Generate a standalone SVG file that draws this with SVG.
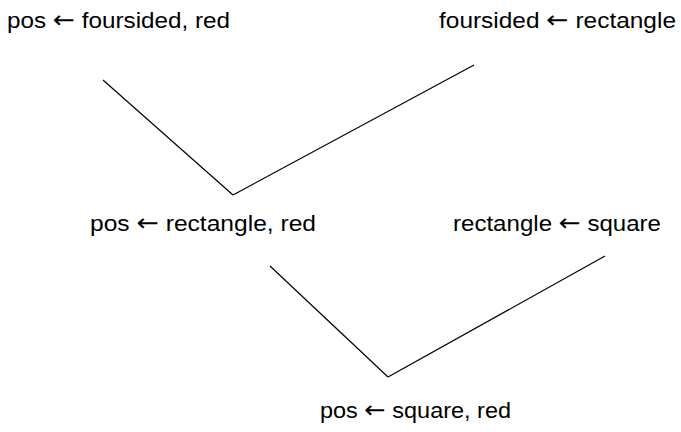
<svg xmlns="http://www.w3.org/2000/svg" width="681" height="432" viewBox="0 0 681 432">
<style>
text{font-family:"Liberation Sans","DejaVu Sans",sans-serif;font-size:22px;fill:#000}
.a{font-family:"DejaVu Sans",sans-serif;font-size:24px}
.c line{stroke:#000;stroke-width:1.2;fill:none}
</style>
<rect width="681" height="432" fill="#fff"/>
<g class="c" id="connectors">
<line x1="103" y1="80" x2="233" y2="195"/>
<line x1="233" y1="195" x2="474" y2="65"/>
<line x1="270" y1="266" x2="388" y2="377"/>
<line x1="388" y1="377" x2="605" y2="256"/>
</g>
<g id="n1"><text x="7" y="28" textLength="223" lengthAdjust="spacingAndGlyphs">pos <tspan class="a">←</tspan> foursided, red</text></g>
<g id="n2"><text x="439" y="28" textLength="237" lengthAdjust="spacingAndGlyphs">foursided <tspan class="a">←</tspan> rectangle</text></g>
<g id="n3"><text x="90" y="231" textLength="226" lengthAdjust="spacingAndGlyphs">pos <tspan class="a">←</tspan> rectangle, red</text></g>
<g id="n4"><text x="453" y="231" textLength="208" lengthAdjust="spacingAndGlyphs">rectangle <tspan class="a">←</tspan> square</text></g>
<g id="n5"><text x="320" y="418" textLength="191" lengthAdjust="spacingAndGlyphs">pos <tspan class="a">←</tspan> square, red</text></g>
</svg>
